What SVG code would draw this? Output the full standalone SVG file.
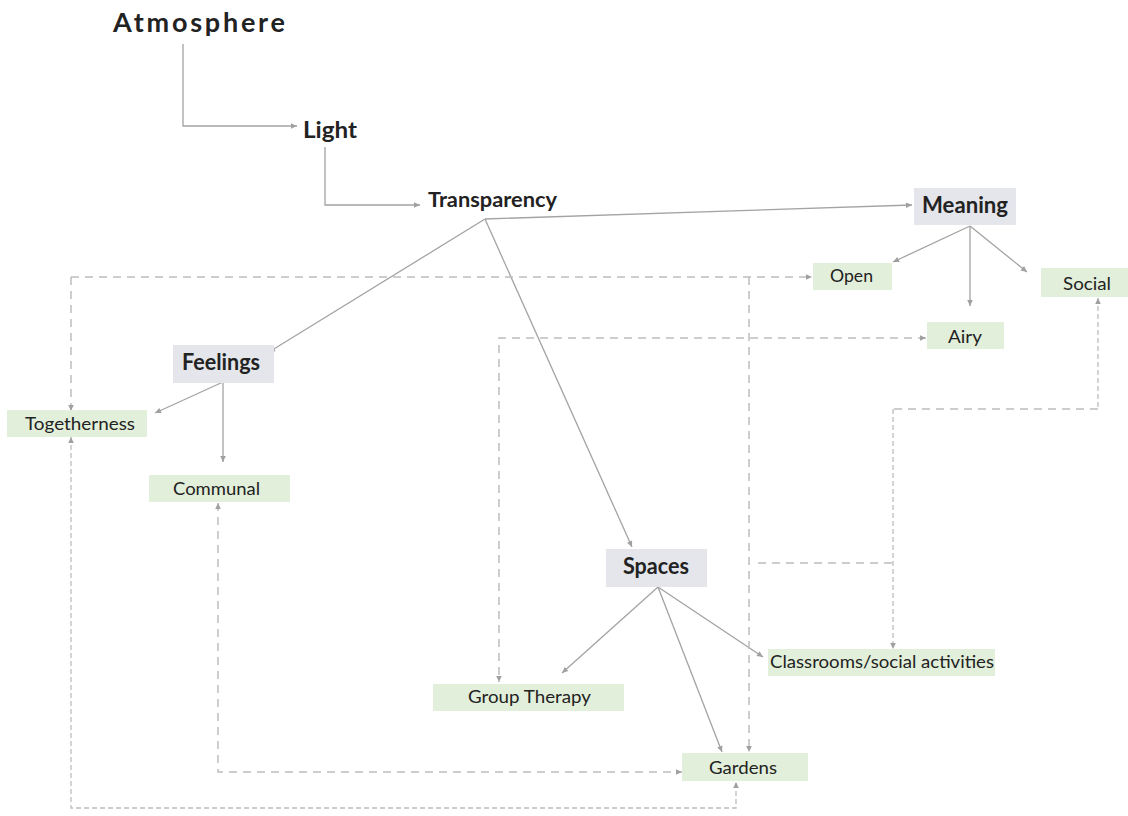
<svg xmlns="http://www.w3.org/2000/svg" width="1128" height="816" viewBox="0 0 1128 816">
<style>
.t{font-family:Lato,"Open Sans","Liberation Sans",sans-serif;fill:#222;}
.b{font-weight:bold;}
.g{fill:#e2efda;}
.h{fill:#e4e6eb;}
.s{fill:none;stroke:#a3a3a3;stroke-width:1.3;}
.d{fill:none;stroke:#bdbdbd;stroke-width:1.5;stroke-dasharray:8 6;}
.f{fill:none;stroke:#bdbdbd;stroke-width:1.3;stroke-dasharray:5 3;}
</style>
<defs>
<marker id="a" markerUnits="userSpaceOnUse" markerWidth="8" markerHeight="8" refX="7" refY="4" orient="auto">
<path d="M1,1.2 L7,4 L1,6.8 Z" fill="#a0a0a0"/>
</marker>
<marker id="as" markerUnits="userSpaceOnUse" markerWidth="8" markerHeight="8" refX="1" refY="4" orient="auto">
<path d="M7,1.2 L1,4 L7,6.8 Z" fill="#a0a0a0"/>
</marker>
</defs>
<rect width="1128" height="816" fill="#fff"/>
<g id="connectors">
<path class="s" d="M183,44 V126 H297" marker-end="url(#a)"/>
<path class="s" d="M325,147 V205 H420" marker-end="url(#a)"/>
<path class="s" d="M485,219 L912,205" marker-end="url(#a)"/>
<path class="s" d="M485,219 L269,352" marker-end="url(#a)"/>
<path class="s" d="M485,219 L632,547" marker-end="url(#a)"/>
<path class="s" d="M970,226 L893,262" marker-end="url(#a)"/>
<path class="s" d="M970,226 L970,306" marker-end="url(#a)"/>
<path class="s" d="M970,226 L1027,272" marker-end="url(#a)"/>
<path class="s" d="M223,382 L155,413" marker-end="url(#a)"/>
<path class="s" d="M223,382 L223,462" marker-end="url(#a)"/>
<path class="s" d="M658,587 L562,673" marker-end="url(#a)"/>
<path class="s" d="M658,587 L722,752" marker-end="url(#a)"/>
<path class="s" d="M658,587 L763,657" marker-end="url(#a)"/>
<path class="d" d="M71,277 H812" marker-end="url(#a)"/>
<path class="d" d="M71,277 V411" marker-end="url(#a)"/>
<path class="d" d="M749,277 V752" marker-end="url(#a)"/>
<path class="f" d="M71,437 V808 H736 V782" marker-start="url(#as)" marker-end="url(#a)"/>
<path class="d" d="M218,503 V772 H682" marker-start="url(#as)" marker-end="url(#a)"/>
<path class="d" d="M926,338 H499 V682" marker-start="url(#as)" marker-end="url(#a)"/>
<path class="f" d="M1098,298 V409" marker-start="url(#as)"/>
<path class="d" d="M1098,409 H893"/>
<path class="f" d="M893,409 V649" marker-end="url(#a)"/>
<path class="d" d="M758,563 H893"/>
</g>
<g id="atmosphere"><text class="t b" x="113" y="32" font-size="27" textLength="172" lengthAdjust="spacing">Atmosphere</text></g>
<g id="light"><text class="t b" x="303" y="138" font-size="22" textLength="54" lengthAdjust="spacingAndGlyphs">Light</text></g>
<g id="transparency"><text class="t b" x="428" y="207" font-size="20" textLength="129" lengthAdjust="spacingAndGlyphs">Transparency</text></g>
<g id="meaning"><rect class="h" x="914" y="188" width="102" height="37"/><text class="t b" x="922" y="213" font-size="22" textLength="86" lengthAdjust="spacingAndGlyphs">Meaning</text></g>
<g id="feelings"><rect class="h" x="173" y="345" width="101" height="38"/><text class="t b" x="182" y="370" font-size="22" textLength="78" lengthAdjust="spacingAndGlyphs">Feelings</text></g>
<g id="spaces"><rect class="h" x="606" y="549" width="101" height="38"/><text class="t b" x="623" y="574" font-size="22" textLength="66" lengthAdjust="spacingAndGlyphs">Spaces</text></g>
<g id="open"><rect class="g" x="813" y="263" width="79" height="27"/><text class="t" x="830" y="282" font-size="18" textLength="43" lengthAdjust="spacingAndGlyphs">Open</text></g>
<g id="social"><rect class="g" x="1041" y="268" width="87" height="29"/><text class="t" x="1063" y="290" font-size="18" textLength="48" lengthAdjust="spacingAndGlyphs">Social</text></g>
<g id="airy"><rect class="g" x="927" y="322" width="77" height="27"/><text class="t" x="948" y="343" font-size="18" textLength="34" lengthAdjust="spacingAndGlyphs">Airy</text></g>
<g id="togetherness"><rect class="g" x="7" y="410" width="140" height="27"/><text class="t" x="25" y="430" font-size="18" textLength="110" lengthAdjust="spacingAndGlyphs">Togetherness</text></g>
<g id="communal"><rect class="g" x="149" y="475" width="141" height="27"/><text class="t" x="173" y="495" font-size="18" textLength="87" lengthAdjust="spacingAndGlyphs">Communal</text></g>
<g id="group-therapy"><rect class="g" x="433" y="684" width="191" height="27"/><text class="t" x="468" y="703" font-size="18" textLength="123" lengthAdjust="spacingAndGlyphs">Group Therapy</text></g>
<g id="classrooms"><rect class="g" x="768" y="649" width="227" height="27"/><text class="t" x="770" y="668" font-size="18" textLength="224" lengthAdjust="spacingAndGlyphs">Classrooms/social activities</text></g>
<g id="gardens"><rect class="g" x="682" y="753" width="126" height="28"/><text class="t" x="709" y="774" font-size="18" textLength="68" lengthAdjust="spacingAndGlyphs">Gardens</text></g>
</svg>
